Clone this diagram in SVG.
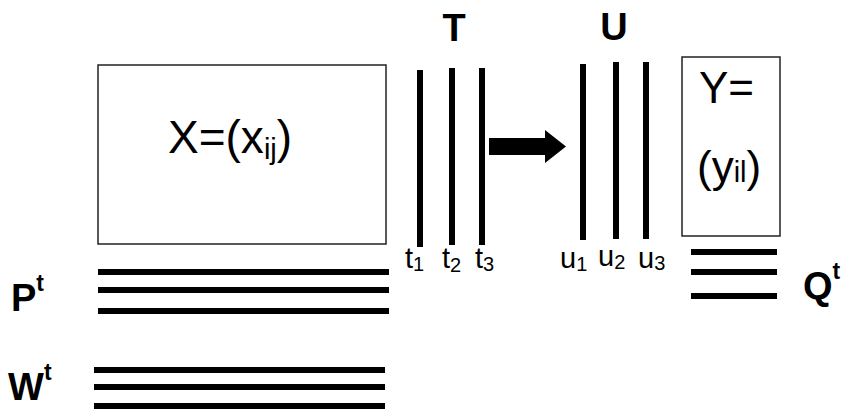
<svg xmlns="http://www.w3.org/2000/svg" width="841" height="409" viewBox="0 0 841 409">
  <style>
    text { font-family: "Liberation Sans", Arial, sans-serif; fill: #000; }
    .big { font-size: 46px; }
    .mid { font-size: 44px; }
    .lbl { font-size: 38px; font-weight: bold; }
    .sup { font-size: 23px; font-weight: bold; }
    .vec { font-size: 29px; }
    .vsub { font-size: 20px; }
    .box { fill: #fff; stroke: #222; stroke-width: 1.5; }
    .bar { stroke: #000; stroke-width: 6; fill: none; }
  </style>
  <rect width="841" height="409" fill="#fff"/>

  <!-- data matrix X -->
  <g id="matrix-x">
    <rect class="box" x="98" y="65" width="288" height="179"/>
    <text class="big" x="168" y="153">X=(x<tspan font-size="29" dy="6">ij</tspan><tspan dy="-6">)</tspan></text>
  </g>

  <!-- score vectors T -->
  <g id="scores-t">
    <text class="lbl" x="454" y="41" text-anchor="middle">T</text>
    <line class="bar" x1="420" y1="70" x2="420" y2="247"/>
    <line class="bar" x1="452" y1="68" x2="452" y2="245"/>
    <line class="bar" x1="482" y1="68" x2="482" y2="245"/>
    <text class="vec" x="405" y="268">t<tspan class="vsub" dy="3">1</tspan></text>
    <text class="vec" x="442" y="268">t<tspan class="vsub" dy="4">2</tspan></text>
    <text class="vec" x="475" y="268">t<tspan class="vsub" dy="3">3</tspan></text>
  </g>

  <!-- score vectors U -->
  <g id="scores-u">
    <text class="lbl" x="614" y="40" text-anchor="middle">U</text>
    <line class="bar" x1="583" y1="64" x2="583" y2="240"/>
    <line class="bar" x1="616" y1="62" x2="616" y2="239"/>
    <line class="bar" x1="646" y1="62" x2="646" y2="239"/>
    <text class="vec" x="560" y="268">u<tspan class="vsub" dy="3">1</tspan></text>
    <text class="vec" x="598" y="266">u<tspan class="vsub" dy="3">2</tspan></text>
    <text class="vec" x="638" y="268">u<tspan class="vsub" dy="2">3</tspan></text>
  </g>

  <!-- response matrix Y -->
  <g id="matrix-y">
    <rect class="box" x="682" y="57" width="98" height="179"/>
    <text class="mid" x="699" y="103">Y=</text>
    <text class="mid" x="697" y="182">(y<tspan font-size="29">il</tspan>)</text>
  </g>

  <!-- loadings P^t -->
  <g id="loadings-p">
    <text class="lbl" x="11" y="311">P<tspan class="sup" dy="-20">t</tspan></text>
    <line class="bar" x1="98" y1="272" x2="389" y2="272"/>
    <line class="bar" x1="98" y1="290" x2="389" y2="290"/>
    <line class="bar" x1="98" y1="311" x2="389" y2="311"/>
  </g>

  <!-- weights W^t -->
  <g id="weights-w">
    <text class="lbl" x="8" y="400">W<tspan class="sup" dy="-20">t</tspan></text>
    <line class="bar" x1="94" y1="370" x2="385" y2="370"/>
    <line class="bar" x1="94" y1="387" x2="385" y2="387"/>
    <line class="bar" x1="94" y1="406" x2="385" y2="406"/>
  </g>

  <!-- loadings Q^t -->
  <g id="loadings-q">
    <text class="lbl" x="803" y="299">Q<tspan class="sup" dy="-20">t</tspan></text>
    <line class="bar" x1="691" y1="252" x2="777" y2="252"/>
    <line class="bar" x1="691" y1="272" x2="777" y2="272"/>
    <line class="bar" x1="691" y1="296" x2="777" y2="296"/>
  </g>

  <!-- connector: T to U -->
  <g id="connectors">
    <polygon points="489,138 545,138 545,130 566,146.5 545,163 545,155 489,155" fill="#000"/>
  </g>
</svg>
